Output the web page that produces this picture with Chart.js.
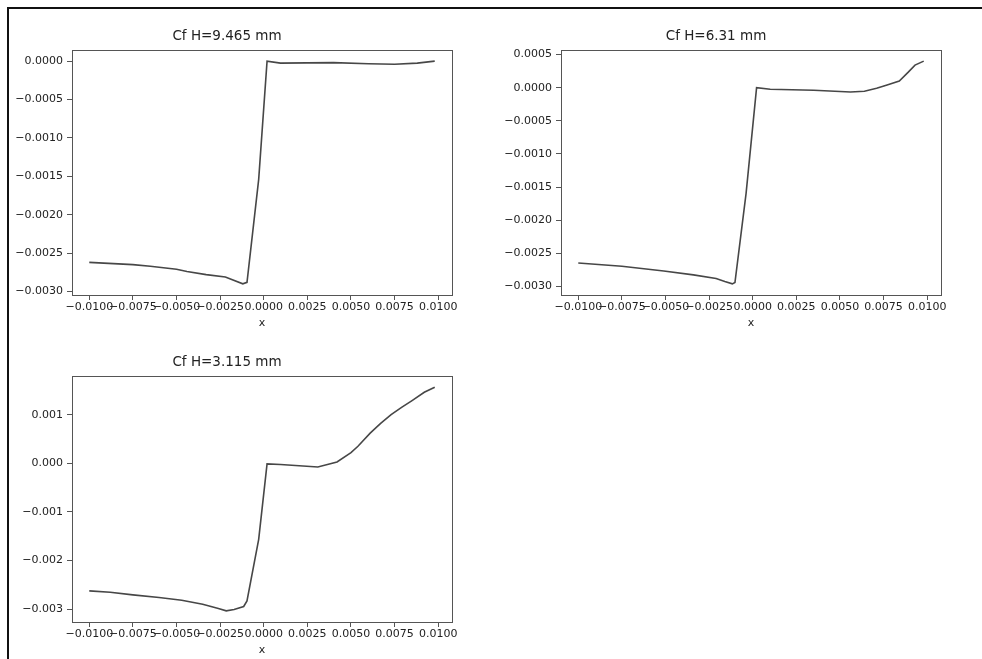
<!DOCTYPE html>
<html>
<head>
<meta charset="utf-8">
<script src="https://cdn.jsdelivr.net/npm/chart.js@4.4.1/dist/chart.umd.min.js"></script>
<style>
  body { margin: 0; background: #fff; width: 982px; height: 659px; overflow: hidden; position: relative; }
  canvas { position: absolute; }
  .frame { position: absolute; left: 7px; top: 7px; right: 0; bottom: 0; border-top: 2px solid #111; border-left: 2px solid #111; pointer-events: none; }
</style>
</head>
<body>
<canvas id="cf1" width="470" height="309" style="left:2px;top:22px"></canvas>
<canvas id="cf2" width="470" height="309" style="left:491px;top:22px"></canvas>
<canvas id="cf3" width="470" height="310" style="left:2px;top:348px"></canvas>
<div class="frame"></div>
<script>
// H = 9.465 mm
const x1 = [-0.0100, -0.0075, -0.0065, -0.0050, -0.0044, -0.0033, -0.0022, -0.0012, -0.00096, -0.00029, 0.00019, 0.00096, 0.0040, 0.0060, 0.0075, 0.0088, 0.0098];
const cf1 = [-0.00262, -0.00265, -0.00267, -0.00271, -0.00274, -0.00278, -0.00281, -0.00290, -0.00288, -0.00154, 0.0, -0.000026, -0.00002, -0.000035, -0.00004, -0.000026, 0.0];

// H = 6.31 mm
const x2 = [-0.0100, -0.0075, -0.0051, -0.0034, -0.0021, -0.0016, -0.00117, -0.00102, -0.00038, 0.00022, 0.0010, 0.0035, 0.0056, 0.0064, 0.0071, 0.0077, 0.0084, 0.0089, 0.0093, 0.0098];
const cf2 = [-0.002645, -0.002695, -0.002765, -0.002825, -0.00288, -0.002925, -0.00296, -0.00294, -0.00159, 0.0, -0.000025, -0.00004, -0.000065, -0.000054, -0.00001, 0.00004, 0.0001, 0.00023, 0.00034, 0.0004];

// H = 3.115 mm
const x3 = [-0.0100, -0.0088, -0.0075, -0.0060, -0.0047, -0.0035, -0.0026, -0.00215, -0.0017, -0.00115, -0.00096, -0.00029, 0.00019, 0.00096, 0.0031, 0.0042, 0.0050, 0.0054, 0.0061, 0.0067, 0.0073, 0.0079, 0.0085, 0.0092, 0.0098];
const cf3 = [-0.002626, -0.002653, -0.002708, -0.002762, -0.002817, -0.002899, -0.002988, -0.003036, -0.003009, -0.002947, -0.002831, -0.001566, -0.000014, -0.000027, -0.000076, 0.000027, 0.00022, 0.00035, 0.00062, 0.00082, 0.001, 0.00115, 0.00129, 0.00146, 0.001565];

// tick positions
const xTicks = [-0.01, -0.0075, -0.005, -0.0025, 0, 0.0025, 0.005, 0.0075, 0.01];
const yTicks1 = [-0.003, -0.0025, -0.002, -0.0015, -0.001, -0.0005, 0];
const yTicks2 = [-0.003, -0.0025, -0.002, -0.0015, -0.001, -0.0005, 0, 0.0005];
const yTicks3 = [-0.003, -0.002, -0.001, 0, 0.001];

const FONT = 'DejaVu Sans';
const AXIS = '#555';
const TEXT = '#222';

// matplotlib-style 5% margins around the data
function padded(arr) {
    const lo = Math.min(...arr), hi = Math.max(...arr);
    const m = (hi - lo) * 0.05;
    return [lo - m, hi + m];
}

function fmt(v, digits) {
    return v.toFixed(digits).replace('-', '\u2212');
}

// box around the plotting area
const boxPlugin = {
    id: 'box',
    afterDraw(chart) {
        const a = chart.chartArea, ctx = chart.ctx;
        ctx.save();
        ctx.strokeStyle = AXIS;
        ctx.lineWidth = 1;
        ctx.strokeRect(Math.round(a.left) + 0.5, Math.round(a.top) + 0.5,
            Math.round(a.right - a.left), Math.round(a.bottom - a.top));
        ctx.restore();
    }
};

function makeChart(id, title, xs, ys, yTicks, yDigits) {
    const [xmin, xmax] = padded(xs);
    const [ymin, ymax] = padded(ys);
    const pts = xs.map((x, i) => ({ x: x, y: ys[i] }));
    return new Chart(document.getElementById(id), {
        type: 'line',
        data: {
            datasets: [{
                data: pts,
                borderColor: '#474747',
                borderWidth: 1.6,
                pointRadius: 0,
                tension: 0,
                fill: false,
            }],
        },
        options: {
            responsive: false,
            animation: false,
            devicePixelRatio: 1,
            layout: { padding: { left: 0, right: 20, top: 0, bottom: 0 } },
            plugins: {
                legend: { display: false },
                tooltip: { enabled: false },
                title: {
                    display: true,
                    text: title,
                    color: TEXT,
                    font: { family: FONT, size: 13.5, weight: 'normal' },
                    padding: { top: 6, bottom: 5.8 },
                },
            },
            scales: {
                x: {
                    type: 'linear',
                    min: xmin,
                    max: xmax,
                    afterBuildTicks: axis => { axis.ticks = xTicks.map(v => ({ value: v })); },
                    afterFit: axis => { axis.height = 36; },
                    grid: { drawOnChartArea: false, drawTicks: true, tickLength: 5, color: AXIS },
                    border: { display: false },
                    ticks: {
                        autoSkip: false, maxRotation: 0, minRotation: 0, padding: 1,
                        color: TEXT, font: { family: FONT, size: 11 },
                        callback: v => fmt(v, 4),
                    },
                    title: {
                        display: true, text: 'x', color: TEXT,
                        font: { family: FONT, size: 11 },
                        padding: { top: 0, bottom: 1.4 },
                    },
                },
                y: {
                    type: 'linear',
                    min: ymin,
                    max: ymax,
                    afterBuildTicks: axis => { axis.ticks = yTicks.map(v => ({ value: v })); },
                    afterFit: axis => { axis.width = 70; },
                    grid: { drawOnChartArea: false, drawTicks: true, tickLength: 5, color: AXIS },
                    border: { display: false },
                    ticks: {
                        padding: 4,
                        color: TEXT, font: { family: FONT, size: 11 },
                        callback: v => fmt(v, yDigits),
                    },
                },
            },
        },
        plugins: [boxPlugin],
    });
}

makeChart('cf1', 'Cf H=9.465 mm', x1, cf1, yTicks1, 4);
makeChart('cf2', 'Cf H=6.31 mm', x2, cf2, yTicks2, 4);
makeChart('cf3', 'Cf H=3.115 mm', x3, cf3, yTicks3, 3);
</script>
</body>
</html>
